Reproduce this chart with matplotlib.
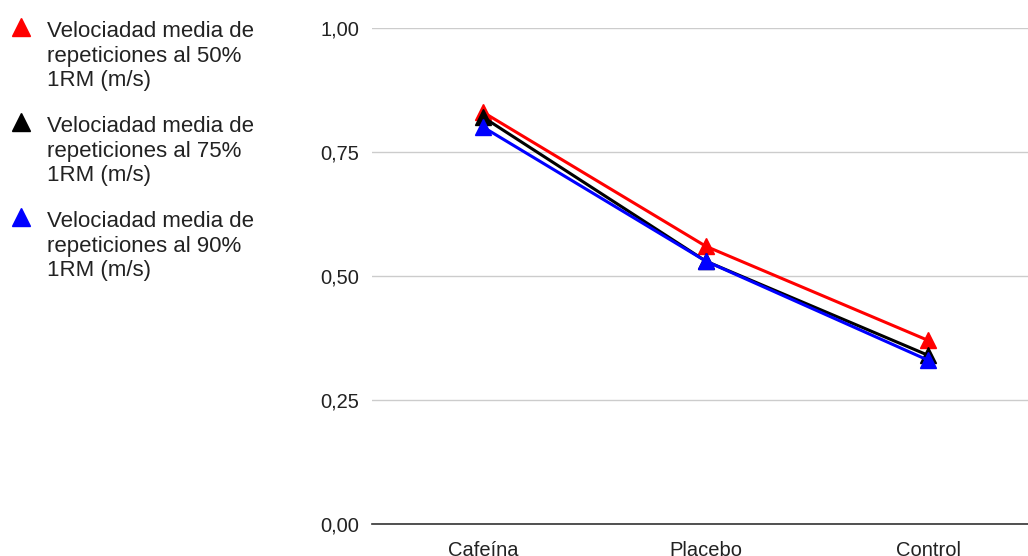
import matplotlib.pyplot as plt
from matplotlib.lines import Line2D
import numpy as np

plt.rcParams['font.family'] = ['Liberation Sans', 'DejaVu Sans']

categories = ['Cafeína', 'Placebo', 'Control']
vel_50 = [0.83, 0.56, 0.37]
vel_75 = [0.82, 0.53, 0.34]
vel_90 = [0.80, 0.53, 0.33]
series_labels = ['Velociadad media de\nrepeticiones al 50%\n1RM (m/s)',
                 'Velociadad media de\nrepeticiones al 75%\n1RM (m/s)',
                 'Velociadad media de\nrepeticiones al 90%\n1RM (m/s)']
colors = ['#ff0000', '#000000', '#0000ff']
y_ticks = [0.0, 0.25, 0.5, 0.75, 1.0]

W, H = 1028, 556
fig = plt.figure(figsize=(W / 100, H / 100), dpi=100)
ax = fig.add_axes([372 / W, 32 / H, 656 / W, 496 / H])

x = np.arange(len(categories))
for vals, col in zip([vel_50, vel_75, vel_90], colors):
    ax.plot(x, vals, color=col, lw=2.2, marker='^', ms=11, zorder=3)

ax.set_xlim(-0.5, 2.448)
ax.set_ylim(0, 1.0)
ax.set_yticks(y_ticks)
ax.set_yticklabels([f'{v:.2f}'.replace('.', ',') for v in y_ticks], fontsize=14.5, color='#222222')
ax.set_xticks(x)
ax.set_xticklabels(categories, fontsize=14.5, color='#222222')
ax.tick_params(length=0)
ax.tick_params(axis='y', pad=9)
ax.tick_params(axis='x', pad=12)
ax.grid(axis='y', color='#cccccc', lw=1)
ax.set_axisbelow(True)
for s in ['top', 'right', 'left']:
    ax.spines[s].set_visible(False)
ax.spines['bottom'].set_color('#333333')
ax.spines['bottom'].set_linewidth(1.2)

# legend drawn by hand on the left
for i, (lab, col) in enumerate(zip(series_labels, colors)):
    yc = 27 + i * 95
    fig.add_artist(Line2D([21 / W], [1 - yc / H], marker='^', ms=13, color=col,
                          lw=0, transform=fig.transFigure))
    fig.text(47 / W, 1 - (yc - 6) / H, lab, fontsize=16, color='#222222',
             ha='left', va='top', linespacing=1.22)

fig.savefig('out.png', dpi=100)
